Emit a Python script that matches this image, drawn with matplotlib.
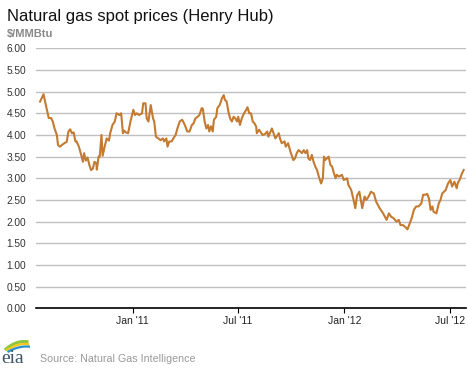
import numpy as np
import pandas as pd
import matplotlib
matplotlib.use("Agg")
import matplotlib.pyplot as plt
import matplotlib.dates as mdates

# Henry Hub spot price
# day = days since 1 Jul 2010
day = [24, 30, 34, 39, 43, 46, 49, 53, 55, 58, 62, 66, 70, 73, 76, 79, 82, 85, 87, 91,
       95, 98, 100, 103, 106, 109, 112, 115, 118, 121, 122, 125, 127, 130, 132, 136, 139, 143, 145, 149,
       153, 156, 161, 164, 167, 169, 172, 176, 180, 185, 188, 191, 195, 200, 202, 206, 208, 211, 215, 219,
       221, 224, 228, 232, 236, 238, 242, 244, 247, 251, 254, 258, 261, 265, 269, 271, 275, 278, 282, 286,
       289, 292, 296, 299, 303, 305, 308, 311, 314, 316, 319, 322, 324, 328, 330, 334, 338, 341, 343, 346,
       349, 352, 355, 358, 361, 364, 366, 369, 372, 376, 378, 382, 385, 388, 391, 394, 397, 398, 402, 408,
       412, 416, 418, 424, 427, 430, 433, 436, 438, 441, 446, 448, 452, 456, 459, 461, 464, 467, 470, 473,
       476, 479, 482, 485, 487, 490, 493, 496, 499, 502, 505, 508, 509, 512, 514, 516, 519, 522, 525, 528,
       531, 534, 536, 540, 545, 548, 554, 556, 561, 565, 568, 571, 575, 580, 584, 587, 591, 595, 600, 604,
       610, 616, 622, 626, 630, 634, 639, 643, 646, 650, 654, 658, 662, 666, 669, 673, 677, 682, 685, 689,
       692, 695, 698, 701, 703, 708, 712, 715, 718, 724, 728, 732, 735, 739, 743, 745, 748, 752, 755]
price = [4.77, 4.94, 4.69, 4.39, 4.39, 4.31, 4.15, 4.00, 3.77, 3.73, 3.77, 3.81, 3.84, 4.08, 4.13, 4.04, 4.06, 3.85, 3.85, 3.73,
         3.54, 3.38, 3.58, 3.41, 3.48, 3.31, 3.19, 3.22, 3.38, 3.35, 3.20, 3.50, 3.50, 4.00, 3.52, 3.76, 3.92, 3.87, 4.04, 4.23,
         4.31, 4.50, 4.46, 4.50, 4.04, 4.10, 4.06, 4.04, 4.31, 4.58, 4.46, 4.50, 4.46, 4.50, 4.73, 4.73, 4.38, 4.31, 4.69, 4.38,
         4.31, 3.96, 3.92, 3.88, 3.92, 3.85, 3.92, 3.73, 3.85, 3.85, 3.92, 4.00, 4.15, 4.31, 4.35, 4.31, 4.19, 4.08, 4.08, 4.23,
         4.27, 4.38, 4.42, 4.46, 4.62, 4.60, 4.31, 4.15, 4.23, 4.08, 4.20, 4.08, 4.35, 4.42, 4.62, 4.69, 4.85, 4.92, 4.81, 4.77,
         4.54, 4.38, 4.31, 4.42, 4.38, 4.31, 4.42, 4.23, 4.38, 4.50, 4.54, 4.64, 4.50, 4.50, 4.31, 4.27, 4.19, 4.04, 4.12, 4.00,
         4.02, 4.08, 3.96, 4.15, 4.04, 3.92, 3.98, 4.04, 3.92, 3.81, 3.85, 3.73, 3.81, 3.62, 3.50, 3.42, 3.46, 3.58, 3.65, 3.62,
         3.58, 3.65, 3.58, 3.65, 3.46, 3.42, 3.54, 3.38, 3.27, 3.19, 3.04, 2.92, 2.88, 3.00, 3.50, 3.42, 3.46, 3.50, 3.31, 3.27,
         3.12, 3.00, 3.08, 3.04, 3.08, 2.96, 3.00, 2.85, 2.73, 2.50, 2.31, 2.60, 2.69, 2.31, 2.58, 2.50, 2.58, 2.69, 2.65, 2.46,
         2.31, 2.19, 2.04, 2.19, 2.11, 2.08, 2.00, 2.04, 1.92, 1.92, 1.88, 1.82, 1.96, 2.11, 2.27, 2.35, 2.35, 2.42, 2.62, 2.62,
         2.64, 2.54, 2.27, 2.35, 2.23, 2.19, 2.42, 2.50, 2.65, 2.73, 2.88, 2.96, 2.81, 2.92, 2.77, 2.90, 2.96, 3.11, 3.19]

yticks = np.arange(0, 6.01, 0.5)
dates = pd.Timestamp("2010-07-01") + pd.to_timedelta(day, unit="D")

plt.rcParams["font.family"] = ["Liberation Sans", "DejaVu Sans"]

fig = plt.figure(figsize=(4.68, 3.70), dpi=100)
ax = fig.add_axes([0.0769, 0.1668, 0.9188, 0.7027])

ax.plot(dates, price, color="#c47a30", linewidth=1.5, zorder=3)

ax.set_ylim(0, 6)
ax.set_yticks(yticks)
ax.set_yticklabels([f"{v:.2f}" for v in yticks])
ax.set_xlim(pd.Timestamp("2010-07-18"), pd.Timestamp("2012-07-29"))
ax.xaxis.set_major_locator(mdates.MonthLocator(bymonth=[1, 7]))
ax.xaxis.set_major_formatter(mdates.DateFormatter("%b '%y"))

ax.grid(axis="y", color="#c0c0c0", linewidth=1)
ax.set_axisbelow(True)
for s in ["top", "right", "left"]:
    ax.spines[s].set_visible(False)
ax.spines["bottom"].set_color("black")
ax.spines["bottom"].set_linewidth(1.2)
ax.spines["bottom"].set_zorder(4)
ax.tick_params(axis="y", length=0, pad=7, labelsize=7.3, labelcolor="#333333")
ax.tick_params(axis="x", length=3.5, width=0.8, direction="out", pad=2,
               labelsize=7.5, labelcolor="#222222")

fig.text(0.015, 0.975, "Natural gas spot prices (Henry Hub)", fontsize=12,
         color="#111111", va="top", ha="left")
fig.text(0.015, 0.908, "$/MMBtu", fontsize=8, color="#888888",
         fontweight="bold", va="center", ha="left")
fig.text(0.085, 0.030, "Source: Natural Gas Intelligence", fontsize=7.7,
         color="#999999", va="center", ha="left")

# eia logo
fig.text(0.002, 0.019, "eia", fontsize=14, family="Liberation Serif",
         color="#3d5566", va="baseline", ha="left")
lax = fig.add_axes([0.0, 1 - 353 / 370, 30 / 468, 13 / 370])
lax.set_xlim(0, 30)
lax.set_ylim(0, 13)
lax.axis("off")
xs = np.linspace(6, 27, 40)
lax.plot(xs, 11.5 - 7.5 / 324 * (xs - 24) ** 2, color="#8cc63f", lw=2.2)
lax.plot(xs + 1, 9.0 - 6.0 / 324 * (xs - 24) ** 2, color="#f2c81a", lw=1.6)
lax.plot(xs + 2.5, 6.5 - 5.0 / 324 * (xs - 24) ** 2, color="#2d8fcc", lw=1.6)

fig.savefig("out.png", dpi=100)
